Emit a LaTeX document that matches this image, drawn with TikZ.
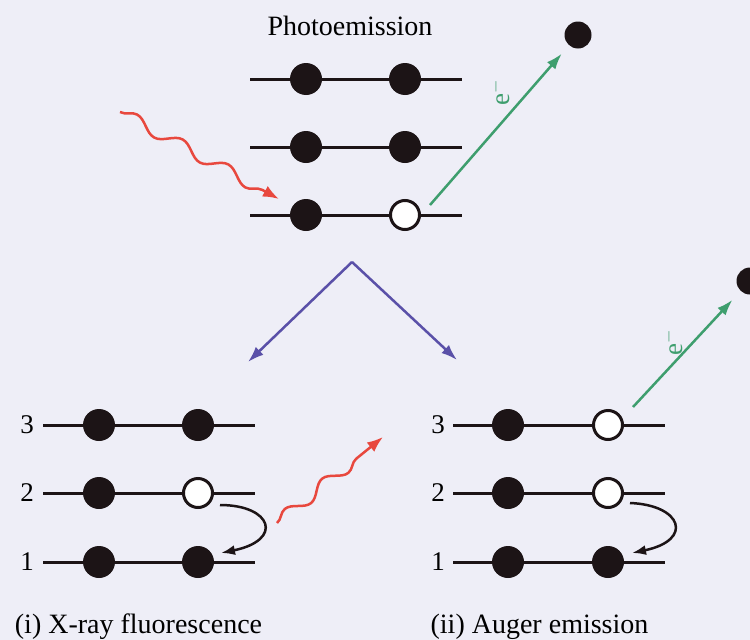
\documentclass[tikz,border=0pt]{standalone}
\usepackage{fontspec}
\setmainfont{Liberation Serif}
\usetikzlibrary{decorations.pathmorphing,arrows.meta}
\definecolor{bg}{HTML}{EEEEF7}
\definecolor{dotc}{HTML}{1C1416}
\definecolor{photon}{HTML}{E8483E}
\definecolor{elec}{HTML}{3E9E6E}
\definecolor{branch}{HTML}{5A50A8}
\begin{document}
\begin{tikzpicture}[x=1pt,y=-1pt,
  full/.style={circle,fill=dotc,minimum size=32pt,inner sep=0pt},
  hole/.style={circle,draw=dotc,fill=white,line width=3pt,minimum size=29pt,inner sep=0pt},
  free/.style={circle,fill=dotc,minimum size=27pt,inner sep=0pt},
  level/.style={line width=3pt,draw=dotc},
  lbl/.style={font=\fontsize{28}{30}\selectfont,anchor=base,inner sep=0pt},
  num/.style={font=\fontsize{27}{29}\selectfont,inner sep=0pt},
  elabel/.style={font=\fontsize{27}{29}\selectfont,text=elec,rotate=90,inner sep=0pt},
  photonarrow/.style={draw=photon,line width=2.5pt,-{Latex[length=16pt,width=12pt]},
    decorate,decoration={snake,amplitude=6pt,segment length=52pt,post length=16pt}},
  elecarrow/.style={draw=elec,line width=2.5pt,-{Latex[length=16pt,width=11pt]}},
  brancharrow/.style={draw=branch,line width=2.5pt,-{Latex[length=16pt,width=11pt]}},
  hoparrow/.style={draw=dotc,line width=2.5pt,-{Latex[length=14pt,width=10pt]}}
]
\fill[bg] (0,0) rectangle (750,640);
\clip (0,0) rectangle (750,640);
\useasboundingbox (0,0) rectangle (750,640);

% ---------- top: photoemission ----------
\node[lbl] (title) at (350,35) {Photoemission};
\coordinate (t3a) at (250,79);  \coordinate (t3b) at (462,79);
\coordinate (t2a) at (250,147); \coordinate (t2b) at (462,147);
\coordinate (t1a) at (250,215); \coordinate (t1b) at (462,215);
\draw[level] (t3a) -- (t3b);
\draw[level] (t2a) -- (t2b);
\draw[level] (t1a) -- (t1b);
\node[full] (t3l) at (306,79) {};
\node[full] (t3r) at (405,79) {};
\node[full] (t2l) at (306,147) {};
\node[full] (t2r) at (405,147) {};
\node[full] (t1l) at (306,215) {};
\node[hole] (t1r) at (405,215) {};
\node[free] (tfree) at (578,35) {};
\coordinate (tgs) at (430,205);
\draw[elecarrow, shorten >=11pt] (tgs) -- (tfree);
\node[elabel] (te) at (500,93) {e$^-$};
\coordinate (tps) at (120,112);
\coordinate (tpe) at (279,199);
\draw[photonarrow] (tps) -- (tpe);

% ---------- branch arrows ----------
\coordinate (apex) at (352,262);
\coordinate (bl) at (248,362);
\coordinate (br) at (457,360);
\draw[brancharrow] (apex) -- (bl);
\draw[brancharrow] (apex) -- (br);

% ---------- bottom left: X-ray fluorescence ----------
\node[num] (l3n) at (27,425) {3};
\node[num] (l2n) at (27,493) {2};
\node[num] (l1n) at (27,562) {1};
\coordinate (l3a) at (43,425);  \coordinate (l3b) at (255,425);
\coordinate (l2a) at (43,493);  \coordinate (l2b) at (255,493);
\coordinate (l1a) at (43,562);  \coordinate (l1b) at (255,562);
\draw[level] (l3a) -- (l3b);
\draw[level] (l2a) -- (l2b);
\draw[level] (l1a) -- (l1b);
\node[full] (l3l) at (99,425) {};
\node[full] (l3r) at (198,425) {};
\node[full] (l2l) at (99,493) {};
\node[hole] (l2r) at (198,493) {};
\node[full] (l1l) at (99,562) {};
\node[full] (l1r) at (198,562) {};
\coordinate (lhs) at (220,505);
\coordinate (lhe) at (221,553);
\draw[hoparrow] (lhs) .. controls (272,505) and (284,540) .. (lhe);
\coordinate (lps) at (277,523);
\coordinate (lpe) at (383,437);
\draw[photonarrow,decoration={snake,amplitude=6pt,segment length=48pt,post length=16pt}] (lps) -- (lpe);
\node[lbl] (lcap) at (138.5,633) {(i) X-ray fluorescence};

% ---------- bottom right: Auger emission ----------
\node[num] (r3n) at (438,425) {3};
\node[num] (r2n) at (438,493) {2};
\node[num] (r1n) at (438,562) {1};
\coordinate (r3a) at (453,425);  \coordinate (r3b) at (665,425);
\coordinate (r2a) at (453,493);  \coordinate (r2b) at (665,493);
\coordinate (r1a) at (453,562);  \coordinate (r1b) at (665,562);
\draw[level] (r3a) -- (r3b);
\draw[level] (r2a) -- (r2b);
\draw[level] (r1a) -- (r1b);
\node[full] (r3l) at (508,425) {};
\node[hole] (r3r) at (608,425) {};
\node[full] (r2l) at (508,493) {};
\node[hole] (r2r) at (608,493) {};
\node[full] (r1l) at (508,562) {};
\node[full] (r1r) at (608,562) {};
\coordinate (rhs) at (630,503);
\coordinate (rhe) at (632,553);
\draw[hoparrow] (rhs) .. controls (682,505) and (694,540) .. (rhe);
\node[free] (rfree) at (750,281) {};
\coordinate (rgs) at (633,407);
\draw[elecarrow, shorten >=12pt] (rgs) -- (rfree);
\node[elabel] (re) at (673,343) {e$^-$};
\node[lbl] (rcap) at (539.5,633) {(ii) Auger emission};
\end{tikzpicture}
\end{document}
